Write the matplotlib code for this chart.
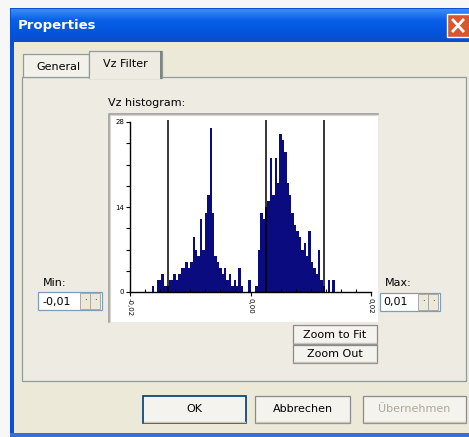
import numpy as np
import matplotlib.pyplot as plt
from matplotlib.patches import Rectangle
from matplotlib.colors import LinearSegmentedColormap
from matplotlib.ticker import MultipleLocator

# Vz histogram: counts per bin, first bin starts at vz_first
vz_first = -0.0164
bin_width = 0.0004
counts = [1, 0, 2, 2, 3, 1, 1, 2, 2, 3,
          2, 3, 4, 4, 5, 4, 5, 9, 7, 6,
          12, 7, 13, 16, 27, 13, 6, 5, 4, 3,
          4, 2, 3, 1, 2, 1, 4, 1, 0, 0,
          2, 0, 0, 1, 7, 13, 12, 14, 15, 22,
          16, 22, 18, 26, 25, 23, 18, 16, 13, 11,
          10, 9, 7, 8, 6, 10, 5, 4, 3, 7,
          2, 1, 0, 2, 0, 2]
filter_lines = [-0.0137, 0.0026, 0.0122]
x_ticks = [-0.02, 0.0, 0.02]
x_ticklabels = ['-0,02', '0,00', '0,02']
y_ticks = [0, 14, 28]
y_ticklabels = ['0', '14', '28']

min_value = '-0,01'
max_value = '0,01'

W, H = 469, 437
plt.rcParams['font.family'] = ['DejaVu Sans']
fig = plt.figure(figsize=(W / 100, H / 100), dpi=100)
fig.patch.set_facecolor('#F7F7F7')

# background axes in pixel coordinates for the dialog
bg = fig.add_axes([0, 0, 1, 1])
bg.set_xlim(0, W)
bg.set_ylim(H, 0)
bg.axis('off')

def rect(x, y, w, h, fc, ec='none', lw=0, z=1):
    bg.add_patch(Rectangle((x, y), w, h, facecolor=fc, edgecolor=ec, linewidth=lw, zorder=z))

def text(x, y, s, size=8, color='black', ha='left', weight='normal', z=5):
    bg.text(x, y, s, fontsize=size, color=color, ha=ha, va='center', fontweight=weight, zorder=z)

def button(x, y, w, h, label, color='black', default=False):
    rect(x, y, w, h, '#F4F3EE', ec='#003C74' if default else '#8A8A8A', lw=1.2 if default else 0.9, z=3)
    bg.plot([x + 1, x + w - 1], [y + h - 1.5, y + h - 1.5], color='#C9C6B8', lw=1, zorder=4)
    text(x + w / 2, y + h / 2, label, color=color, ha='center')

# window frame + title bar
rect(10, 8, 470, 440, '#0A4FD6')
grad = np.linspace(0, 1, 40).reshape(-1, 1)
cmap = LinearSegmentedColormap.from_list('xp', ['#3B8BF5', '#0A5FE8', '#0455DE', '#0A4ECB'])
bg.imshow(grad, cmap=cmap, extent=[11, W, 42, 9], aspect='auto', zorder=1)
text(18, 26, 'Properties', size=9.5, color='white', weight='bold')
rect(447, 14, 24, 23, '#D9562F', ec='white', lw=1, z=3)
bg.plot([453, 463], [20, 31], color='white', lw=2, zorder=4)
bg.plot([453, 463], [31, 20], color='white', lw=2, zorder=4)

# dialog body
rect(14, 42, 460, 391, '#ECE9D8', z=2)
rect(10, 433, 470, 5, '#3A6FD8', z=2)

# tab page + tabs
rect(22, 77, 444, 304, '#EEECE2', ec='#919B9C', lw=0.9, z=2)
rect(23, 54, 66, 23, '#F2F1EA', ec='#919B9C', lw=0.9, z=2)
rect(89, 51, 73, 27, '#EEECE2', ec='#919B9C', lw=0.9, z=3)
rect(89.6, 75, 71.8, 4, '#EEECE2', z=4)
bg.plot([161, 161], [52, 78], color='#6E6E6E', lw=1.2, zorder=4)
text(58, 67, 'General', ha='center')
text(125, 64, 'Vz Filter', ha='center')

# histogram box
text(108, 103, 'Vz histogram:')
rect(109, 114, 269, 208, 'white', z=3)
bg.plot([109, 109, 378], [322, 114, 114], color='#9D9D9D', lw=1.2, zorder=4)
bg.plot([110, 110, 377], [321, 115, 115], color='#D8D6CC', lw=0.8, zorder=4)

# min / max spin boxes
text(43, 283, 'Min:')
rect(38, 292, 64, 18, 'white', ec='#7F9DB9', lw=0.9, z=3)
text(42, 301.5, min_value)
for sx in (80, 90):
    rect(sx, 293, 10, 16, '#ECE9D8', ec='#A8A8A8', lw=0.7, z=4)
    text(sx + 5, 301, '·', size=6, ha='center')
text(385, 283, 'Max:')
rect(380, 293, 60, 18, 'white', ec='#7F9DB9', lw=0.9, z=3)
text(383, 302, max_value)
for sx in (418, 428):
    rect(sx, 294, 10, 16, '#ECE9D8', ec='#A8A8A8', lw=0.7, z=4)
    text(sx + 5, 302, '·', size=6, ha='center')

button(293, 325, 84, 19, 'Zoom to Fit')
button(293, 345, 84, 18, 'Zoom Out')

button(143, 396, 103, 27, 'OK', default=True)
button(255, 396, 95, 27, 'Abbrechen')
button(363, 396, 103, 27, 'Übernehmen', color='#ACA899')

# histogram axes
ax = fig.add_axes([130 / W, 1 - 292 / H, 241 / W, 170 / H])
ax.set_facecolor('none')
lefts = vz_first + bin_width * np.arange(len(counts))
ax.bar(lefts, counts, width=bin_width, align='edge', color='#0B0B80', linewidth=0)
ax.vlines(filter_lines, 0, 28.4, color='black', linewidth=1.1, clip_on=False)
ax.set_xlim(-0.02, 0.02)
ax.set_ylim(0, 28)
for s in ('top', 'right'):
    ax.spines[s].set_visible(False)
for s in ('left', 'bottom'):
    ax.spines[s].set_linewidth(1)
ax.set_xticks(x_ticks)
ax.set_xticklabels(x_ticklabels, rotation=-90)
ax.set_yticks(y_ticks)
ax.set_yticklabels(y_ticklabels)
ax.xaxis.set_minor_locator(MultipleLocator(0.0025))
ax.yaxis.set_minor_locator(MultipleLocator(3.5))
ax.tick_params(axis='both', which='major', direction='out', length=3, width=0.8, labelsize=5, pad=1)
ax.tick_params(axis='x', which='minor', direction='in', length=2.5, width=0.8)
ax.tick_params(axis='y', which='minor', direction='out', length=3, width=0.8)

fig.savefig('out.png', dpi=100)
